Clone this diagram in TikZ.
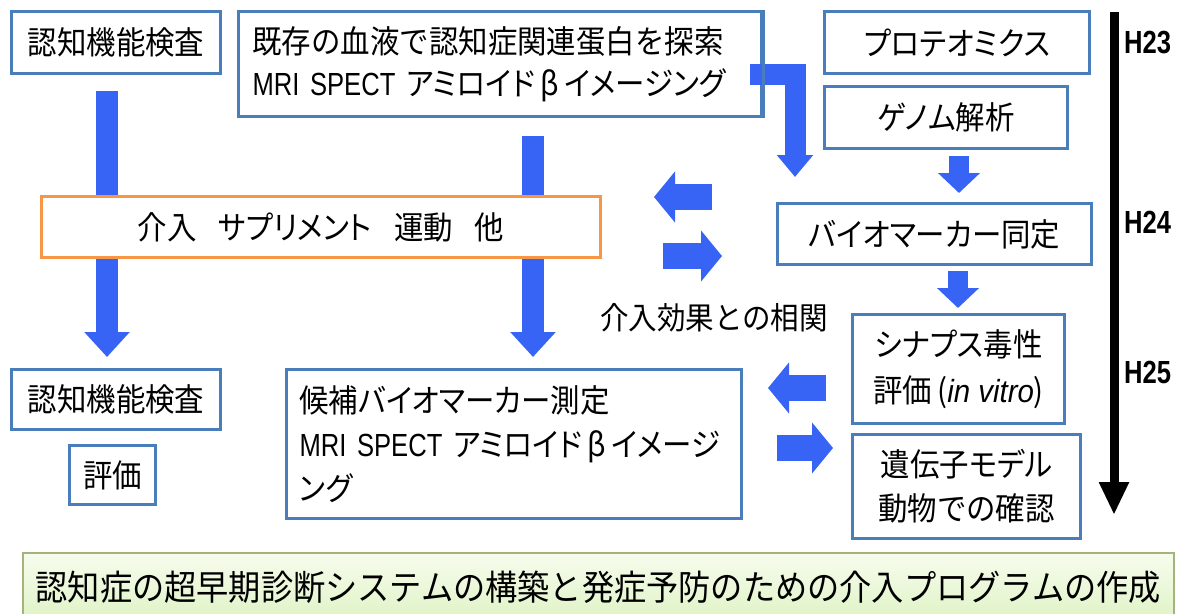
\documentclass[tikz,border=0pt]{standalone}
\usepackage{fontspec}
\setmainfont{Noto Sans CJK JP}[FakeStretch=0.92]
\newfontfamily\hfont{Liberation Sans}[FakeStretch=0.8]
\newfontfamily\itfont{Liberation Sans}[FakeStretch=0.92]
\newcommand\pk[1]{{\addfontfeatures{RawFeature=+palt}#1}}
\newcommand\mri{{\hfont MRI SPECT}}
\usetikzlibrary{arrows.meta}
\definecolor{boxblue}{RGB}{74,126,187}
\definecolor{arrblue}{RGB}{55,100,245}
\definecolor{boxorange}{RGB}{247,150,70}
\definecolor{boxgreen}{RGB}{165,180,125}
\definecolor{greentop}{RGB}{247,252,238}
\definecolor{greenbot}{RGB}{222,243,196}

\begin{document}
\begin{tikzpicture}[x=1pt,y=-1pt,
  bbox/.style={draw=boxblue,line width=3pt,fill=white,inner sep=0pt,anchor=north west,font=\fontsize{32}{42}\selectfont},
  obox/.style={bbox,draw=boxorange},
  bigarrow/.style={draw=arrblue,line width=22pt,-{Triangle[width=44pt,length=25pt]}},
  bentarrow/.style={draw=arrblue,line width=21pt,line join=miter,-{Triangle[width=35pt,length=22pt]}},
  midarrow/.style={draw=arrblue,line width=20pt,-{Triangle[width=41pt,length=20pt]}},
  sidearrow/.style={draw=arrblue,line width=26pt,-{Triangle[width=50pt,length=21pt]}},
  hlabel/.style={anchor=west,inner sep=0pt,font=\hfont\bfseries\fontsize{32}{32}\selectfont}]
\useasboundingbox (0,0) rectangle (1185,613);
\node[bbox,minimum width=209pt,minimum height=62pt] (kensa1) at (10,10) {認知機能検査};
\node[bbox,minimum width=209pt,minimum height=60pt] (kensa2) at (10,368) {認知機能検査};
\node[bbox,minimum width=86pt,minimum height=59pt] (hyouka) at (68,444) {評価};
\node[bbox,text width=495pt,align=left,inner xsep=14pt,minimum height=105pt] (kizon) at (237,10) {既存の血液で認知症関連蛋白を探索\\\mbox{\mri\ \pk{アミロイド}\,β\,\pk{イメージング}}};
\node[bbox,text width=429pt,align=left,inner xsep=13pt,minimum height=149pt,font=\fontsize{32}{44}\selectfont] (koho) at (285,368) {候補\pk{バイオマーカー}測定\\\mbox{\mri\ \pk{アミロイド}\,β\,\pk{イメージ}}\\\pk{ング}};
\node[bbox,minimum width=265pt,minimum height=62pt] (proteo) at (823,10) {\pk{プロテオミクス}};
\node[bbox,minimum width=243pt,minimum height=62pt] (genome) at (823,85) {\pk{ゲノム}解析};
\node[bbox,minimum width=314pt,minimum height=61pt] (bio) at (776,202) {\pk{バイオマーカー}同定};
\node[bbox,minimum width=212pt,minimum height=109pt,align=center,font=\fontsize{32}{46}\selectfont] (synapse) at (851,313) {\pk{シナプス}毒性\\評価\,({\itfont\itshape in vitro})};
\node[bbox,minimum width=228pt,minimum height=104pt,align=center,font=\fontsize{32}{44}\selectfont] (idenshi) at (851,433) {遺伝子\pk{モデル}\\動物での確認};
\node[font=\fontsize{31}{31}\selectfont,inner sep=0pt] (soukan) at (714,318) {介入効果との相関};
\coordinate (l1) at (107,91);
\coordinate (m1) at (533,136);
\draw[bigarrow,shorten >=11pt] (l1) -- (l1 |- kensa2.north);
\draw[bigarrow,shorten >=11pt] (m1) -- (m1 |- koho.north);
\node[obox,minimum width=559pt,minimum height=61pt] (kainyu) at (40,195) {介入\hspace{22pt}\pk{サプリメント}\hspace{22pt}運動\hspace{22pt}他};
\coordinate (b0) at (750,74);
\coordinate (b1) at (795,177);
\draw[bentarrow] (b0) -| (b1);
\draw[boxblue,line width=3pt] (kizon.north east) -- (kizon.south east);
\coordinate (g1) at (959,156);
\draw[midarrow,shorten >=9pt] (g1) -- (g1 |- bio.north);
\coordinate (g2) at (958,271);
\draw[midarrow,shorten >=5pt] (g2) -- (g2 |- synapse.north);
\coordinate (s1) at (712,197);
\coordinate (s2) at (654,197);
\coordinate (s3) at (663,256);
\coordinate (s4) at (722,256);
\coordinate (s5) at (826,388);
\coordinate (s6) at (768,388);
\coordinate (s7) at (777,448);
\coordinate (s8) at (833,448);
\draw[sidearrow] (s1) -- (s2);
\draw[sidearrow] (s3) -- (s4);
\draw[sidearrow] (s5) -- (s6);
\draw[sidearrow] (s7) -- (s8);
\coordinate (t0) at (1114,12);
\coordinate (t1) at (1114,515);
\draw[line width=9pt,-{Triangle[width=28pt,length=33pt]}] (t0) -- (t1);
\node[hlabel] (h23) at (1124,43) {H23};
\node[hlabel] (h24) at (1124,222) {H24};
\node[hlabel] (h25) at (1124,372) {H25};
\node[anchor=north west,draw=boxgreen,line width=1.5pt,top color=greentop,bottom color=greenbot,minimum width=1151pt,minimum height=70pt,inner sep=0pt,font=\fontsize{35}{35}\selectfont] (goal) at (22,552) {認知症の超早期診断システムの構築と発症予防のための介入プログラムの作成};
\end{tikzpicture}
\end{document}
